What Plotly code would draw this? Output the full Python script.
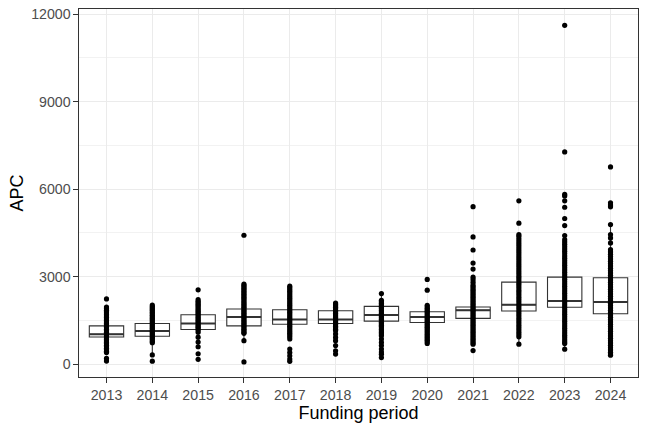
import plotly.graph_objects as go

years = ["2013", "2014", "2015", "2016", "2017", "2018", "2019", "2020", "2021", "2022", "2023", "2024"]

# box statistics
q1 = [935, 958, 1189, 1316, 1373, 1396, 1477, 1431, 1573, 1825, 1952, 1733]
median = [1027, 1142, 1396, 1616, 1535, 1535, 1685, 1616, 1848, 2043, 2170, 2135]
q3 = [1316, 1396, 1696, 1893, 1870, 1835, 1985, 1800, 1963, 2813, 2985, 2962]
lower_whisker = [400, 323, 611, 808, 870, 810, 750, 715, 990, 689, 517, 310]
upper_whisker = [1880, 2031, 2215, 2746, 2600, 2100, 2423, 2020, 2540, 4290, 4408, 4787]

y_ticks = [0, 3000, 6000, 9000, 12000]
y_tick_labels = ["0", "3000", "6000", "9000", "12000"]

# APC observations per funding period
apc_2013 = [2240, 1960, 1900, 1850, 1800, 1760, 1700, 1650, 1600, 1550, 1500, 1450, 1400, 1350,
            1300, 1250, 1200, 1150, 1100, 1050, 1000, 950, 900, 850, 800, 750, 700, 650, 600,
            550, 500, 450, 400, 200, 110]
apc_2014 = [2030, 1980, 1930, 1880, 1830, 1780, 1730, 1680, 1630, 1580, 1530, 1480, 1430, 1380,
            1330, 1280, 1230, 1180, 1130, 1080, 1030, 980, 930, 880, 830, 780, 740, 320, 105]
apc_2015 = [2550, 2215, 2160, 2110, 2060, 2010, 1960, 1910, 1860, 1810, 1760, 1710, 1660, 1610,
            1560, 1510, 1460, 1410, 1360, 1310, 1270, 1220, 1170, 1100, 930, 760, 600, 360, 170]
apc_2016 = [4420, 2746, 2700, 2650, 2600, 2550, 2500, 2450, 2400, 2350, 2300, 2250, 2200, 2150,
            2100, 2050, 2000, 1950, 1900, 1850, 1800, 1750, 1700, 1650, 1600, 1550, 1500, 1450,
            1400, 1350, 1300, 1250, 1200, 1150, 1100, 1060, 810, 80]
apc_2017 = [2677, 2620, 2560, 2500, 2440, 2380, 2320, 2260, 2200, 2140, 2080, 2020, 1960, 1900,
            1840, 1780, 1720, 1660, 1600, 1540, 1480, 1420, 1360, 1300, 1240, 1180, 1120, 1060,
            1000, 940, 870, 520, 400, 290, 180, 100]
apc_2018 = [2100, 2050, 2000, 1950, 1900, 1850, 1800, 1750, 1700, 1650, 1600, 1550, 1500, 1450,
            1400, 1350, 1300, 1250, 1200, 1155, 1040, 920, 810, 640, 460, 350]
apc_2019 = [2423, 2193, 2140, 2090, 2040, 1990, 1940, 1890, 1840, 1790, 1740, 1690, 1640, 1590,
            1540, 1490, 1440, 1390, 1340, 1290, 1240, 1190, 1140, 1090, 1040, 981, 866, 750,
            640, 520, 420, 346, 230]
apc_2020 = [2908, 2539, 2020, 1970, 1920, 1870, 1820, 1770, 1720, 1670, 1620, 1570, 1520, 1470,
            1420, 1370, 1320, 1270, 1220, 1170, 1120, 1070, 1020, 970, 920, 870, 820, 770, 715]
apc_2021 = [5400, 4362, 3915, 3467, 3260, 2985, 2900, 2810, 2720, 2663, 2600, 2540, 2480, 2420,
            2360, 2300, 2240, 2180, 2120, 2060, 2000, 1940, 1880, 1820, 1760, 1700, 1640, 1580,
            1520, 1460, 1400, 1340, 1280, 1220, 1160, 1100, 1040, 980, 920, 860, 800, 740, 689, 471]
apc_2022 = [5600, 4833, 4443, 4385, 4300, 4220, 4140, 4060, 3980, 3900, 3820, 3740, 3660, 3580,
            3500, 3420, 3340, 3260, 3180, 3100, 3020, 2940, 2860, 2780, 2700, 2620, 2540, 2460,
            2380, 2300, 2220, 2140, 2060, 1980, 1900, 1820, 1740, 1660, 1580, 1500, 1420, 1340,
            1260, 1180, 1100, 1020, 941, 689]
apc_2023 = [11612, 7276, 5820, 5765, 5600, 5380, 4994, 4753, 4408, 4270, 4190, 4110, 4030, 3950,
            3870, 3790, 3710, 3630, 3550, 3470, 3390, 3310, 3230, 3150, 3070, 2990, 2910, 2830,
            2750, 2670, 2590, 2510, 2430, 2350, 2270, 2190, 2110, 2030, 1950, 1870, 1790, 1710,
            1630, 1550, 1470, 1390, 1310, 1230, 1150, 1070, 990, 910, 830, 760, 712, 517]
apc_2024 = [6763, 5533, 5453, 5396, 4787, 4443, 4328, 4156, 3926, 3850, 3770, 3690, 3610, 3530,
            3450, 3370, 3290, 3210, 3130, 3050, 2970, 2890, 2810, 2730, 2650, 2570, 2490, 2410,
            2330, 2250, 2170, 2090, 2010, 1930, 1850, 1770, 1690, 1610, 1530, 1450, 1370, 1290,
            1210, 1130, 1050, 970, 890, 810, 730, 650, 570, 490, 410, 350, 310]

apc_by_year = [apc_2013, apc_2014, apc_2015, apc_2016, apc_2017, apc_2018, apc_2019, apc_2020,
               apc_2021, apc_2022, apc_2023, apc_2024]

pts_x = []
pts_y = []
for yr, vals in zip(years, apc_by_year):
    pts_x += [yr] * len(vals)
    pts_y += vals

GREY20 = "#333333"
GREY30 = "#4D4D4D"
GRID = "#EBEBEB"
FONT = "Liberation Sans"

fig = go.Figure()
fig.add_trace(go.Box(
    x=years, q1=q1, median=median, q3=q3,
    lowerfence=lower_whisker, upperfence=upper_whisker,
    boxpoints=False, fillcolor="white", whiskerwidth=0,
    line=dict(color=GREY20, width=1.1), width=0.75, showlegend=False, hoverinfo="skip",
))
# thicker median bar (ggplot fatten)
fig.add_trace(go.Box(
    x=years, q1=median, median=median, q3=median,
    lowerfence=median, upperfence=median,
    boxpoints=False, fillcolor="rgba(0,0,0,0)", whiskerwidth=0,
    line=dict(color=GREY20, width=2), width=0.75, showlegend=False, hoverinfo="skip",
))
fig.add_trace(go.Scatter(
    x=pts_x, y=pts_y, mode="markers",
    marker=dict(color="black", size=5.2, line=dict(width=0)),
    showlegend=False,
))

fig.update_layout(
    width=648, height=432,
    margin=dict(l=79, r=10, t=9, b=55),
    paper_bgcolor="white", plot_bgcolor="white",
    boxmode="overlay",
    font=dict(family=FONT),
    xaxis=dict(
        type="category", range=[-0.6, 11.6], automargin=False,
        showgrid=True, gridcolor=GRID, gridwidth=1.1,
        showline=True, mirror=True, linecolor=GREY20, linewidth=1.1,
        ticks="outside", ticklen=4.5, tickcolor=GREY20, tickwidth=1.1,
        tickfont=dict(size=14.2, color=GREY30, family=FONT),
        title=dict(text="Funding period", font=dict(size=18, color="black", family=FONT), standoff=4),
        zeroline=False,
    ),
    yaxis=dict(
        range=[-436, 12172], automargin=False, ticklabeloverflow="allow",
        tickmode="array", tickvals=y_ticks, ticktext=y_tick_labels,
        showgrid=True, gridcolor=GRID, gridwidth=1.1,
        minor=dict(tickmode="array", tickvals=[1500, 4500, 7500, 10500], showgrid=True,
                   gridcolor="#F2F2F2", gridwidth=0.6),
        showline=True, mirror=True, linecolor=GREY20, linewidth=1.1,
        ticks="outside", ticklen=4.5, tickcolor=GREY20, tickwidth=1.1,
        tickfont=dict(size=14.2, color=GREY30, family=FONT),
        title=dict(text="APC", font=dict(size=18, color="black", family=FONT), standoff=2),
        zeroline=False,
    ),
)

fig.write_html("out.html", config={"displayModeBar": False},
               post_script="document.body.style.margin='0';")
